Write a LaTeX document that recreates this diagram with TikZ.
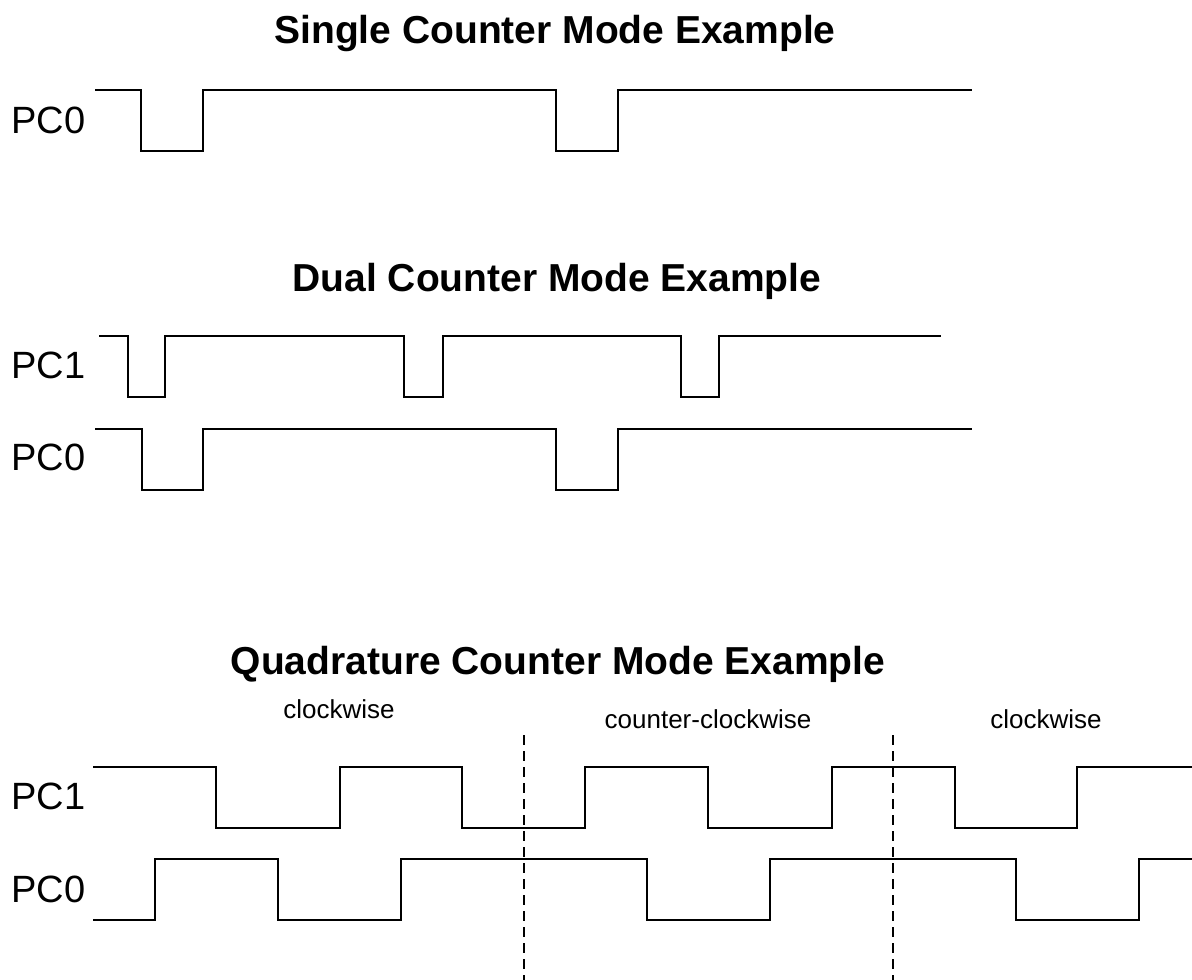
\documentclass[tikz,border=0pt]{standalone}
\usepackage{fontspec}
\setmainfont{Liberation Sans}
\tikzset{
  px/.style={x=0.75pt,y=-0.75pt},
  wave/.style={line width=1.1pt,line join=miter,black},
  divider/.style={line width=1.1pt,dash pattern=on 7.5pt off 4.5pt,black},
  title/.style={inner sep=0pt,anchor=base,font=\fontsize{29.25pt}{34pt}\selectfont\bfseries},
  pin/.style={inner sep=0pt,anchor=base west,font=\fontsize{28.5pt}{33pt}\selectfont},
  dir/.style={inner sep=0pt,anchor=base,font=\fontsize{19.5pt}{23pt}\selectfont}
}
\begin{document}
\begin{tikzpicture}[px]
\useasboundingbox (0,0) rectangle (1192,980);
% ---------- Single ----------
\node[title] (t1) at (555,44) {Single Counter Mode Example};
\node[pin] (s0) at (11,134) {PC0};
\draw[wave] (95,90) -- (141,90) -- (141,151) -- (203,151) -- (203,90) -- (556,90)
  -- (556,151) -- (618,151) -- (618,90) -- (972,90);
% ---------- Dual ----------
\node[title] (t2) at (557,292) {Dual Counter Mode Example};
\node[pin] (d1) at (11,379) {PC1};
\node[pin] (d0) at (11,470) {PC0};
\draw[wave] (99,336) -- (128,336) -- (128,397) -- (165,397) -- (165,336) -- (404,336)
  -- (404,397) -- (443,397) -- (443,336) -- (681,336) -- (681,397) -- (719,397)
  -- (719,336) -- (941,336);
\draw[wave] (95,429) -- (142,429) -- (142,490) -- (203,490) -- (203,429) -- (556,429)
  -- (556,490) -- (618,490) -- (618,429) -- (972,429);
% ---------- Quadrature ----------
\node[title] (t3) at (558,674) {Quadrature Counter Mode Example};
\node[dir] (cw1) at (339,718) {clockwise};
\node[dir] (ccw) at (708,728) {counter-clockwise};
\node[dir] (cw2) at (1046,728) {clockwise};
\node[pin] (q1) at (11,809) {PC1};
\node[pin] (q0) at (11,902) {PC0};
\draw[wave] (93,767) -- (216,767) -- (216,828) -- (340,828) -- (340,767) -- (462,767)
  -- (462,828) -- (585,828) -- (585,767) -- (708,767) -- (708,828) -- (832,828)
  -- (832,767) -- (955,767) -- (955,828) -- (1077,828) -- (1077,767) -- (1192,767);
\draw[wave] (93,920) -- (155,920) -- (155,859) -- (278,859) -- (278,920) -- (401,920)
  -- (401,859) -- (647,859) -- (647,920) -- (770,920) -- (770,859) -- (1016,859)
  -- (1016,920) -- (1139,920) -- (1139,859) -- (1192,859);
\coordinate (da) at (524,735);
\coordinate (db) at (524,980);
\coordinate (dc) at (893,735);
\coordinate (dd) at (893,980);
\draw[divider] (da) -- (db);
\draw[divider] (dc) -- (dd);
\end{tikzpicture}
\end{document}
